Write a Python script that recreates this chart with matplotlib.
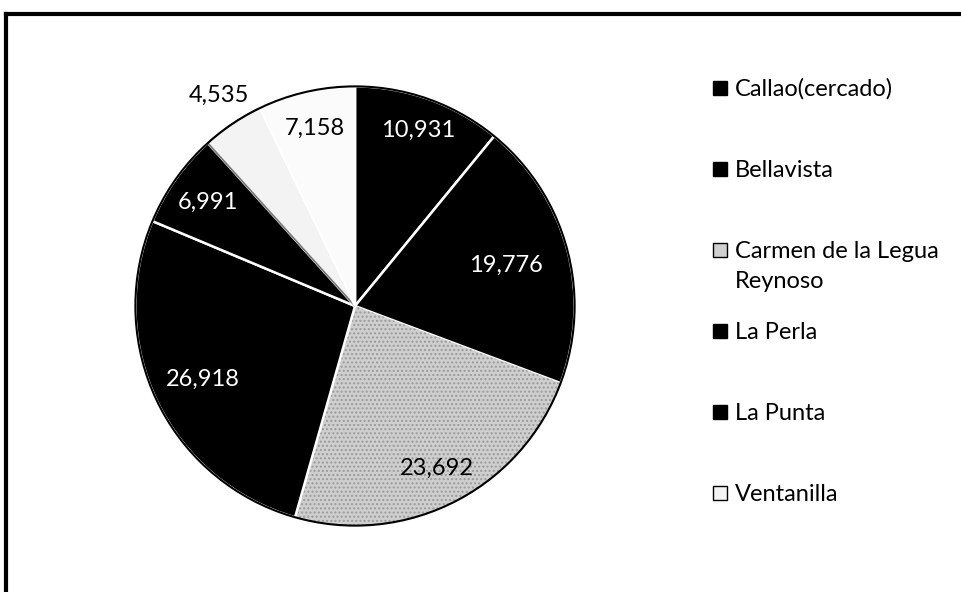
import numpy as np
import matplotlib
matplotlib.use("Agg")
import matplotlib.pyplot as plt
from matplotlib.patches import Rectangle, Circle
from matplotlib.lines import Line2D

plt.rcParams['font.family'] = ['Lato', 'DejaVu Sans']

# data (clockwise from 12 o'clock)
values = [10931, 19776, 23692, 26918, 6991, 4535, 7158]
value_labels = ['10,931', '19,776', '23,692', '26,918', '6,991', '4,535', '7,158']
legend_names = ['Callao(cercado)', 'Bellavista', 'Carmen de la Legua\nReynoso',
                'La Perla', 'La Punta', 'Ventanilla']

colors = ['#000000', '#000000', '#cfcfcf', '#000000', '#000000', '#f3f3f3', '#fbfbfb']
text_colors = ['white', 'white', 'black', 'white', 'white', 'black', 'black']
label_dist = [0.85, 0.71, 0.83, 0.77, 0.82, 1.11, 0.83]

W, H = 961, 592
fig = plt.figure(figsize=(W / 100, H / 100), dpi=100)

# pie box: centre (355, 306) px, radius 224 px
cx, cy, r = 355, 306, 224
ax = fig.add_axes([(cx - r) / W, (H - cy - r) / H, 2 * r / W, 2 * r / H])
wedges, _ = ax.pie(values, colors=colors, startangle=90, counterclock=False,
                   radius=1, wedgeprops=dict(edgecolor='white', linewidth=1.8))
wedges[2].set_hatch('....')
wedges[2].set_edgecolor('#9a9a9a')
wedges[2].set_linewidth(0)
# dark sliver at the edge between the two light slices, as in the scan
wedges[5].set_edgecolor('#777777')
wedges[5].set_linewidth(1.2)
ax.add_patch(Circle((0, 0), 1, fill=False, edgecolor='black', lw=1.5))
ax.set_xlim(-1.02, 1.02)
ax.set_ylim(-1.02, 1.02)
ax.axis('off')

for w, lab, tc, d in zip(wedges, value_labels, text_colors, label_dist):
    mid = np.deg2rad((w.theta1 + w.theta2) / 2)
    ax.text(d * np.cos(mid), d * np.sin(mid) + (0.04 if d > 1 else 0), lab,
            color=tc, fontsize=17, ha='center', va='center')

# legend, drawn by hand to keep Excel's even row spacing
mx, tx = 713, 735
row0, step, line_h = 88, 81, 30
for i, name in enumerate(legend_names):
    yc = row0 + i * step
    fig.add_artist(Rectangle((mx / W, 1 - (yc + 7) / H), 14 / W, 14 / H,
                             facecolor=colors[i], edgecolor='black', lw=1,
                             transform=fig.transFigure))
    for k, line in enumerate(name.split('\n')):
        fig.text(tx / W, 1 - (yc + 8 + k * line_h) / H, line, fontsize=17,
                 va='baseline', ha='left')

# chart frame (top and left edges visible in the scan)
fig.add_artist(Line2D([6 / W, 1], [1 - 14 / H, 1 - 14 / H], color='black', lw=3,
                      transform=fig.transFigure))
fig.add_artist(Line2D([6 / W, 6 / W], [0, 1 - 14 / H], color='black', lw=3,
                      transform=fig.transFigure))

fig.savefig('out.png', dpi=100)
